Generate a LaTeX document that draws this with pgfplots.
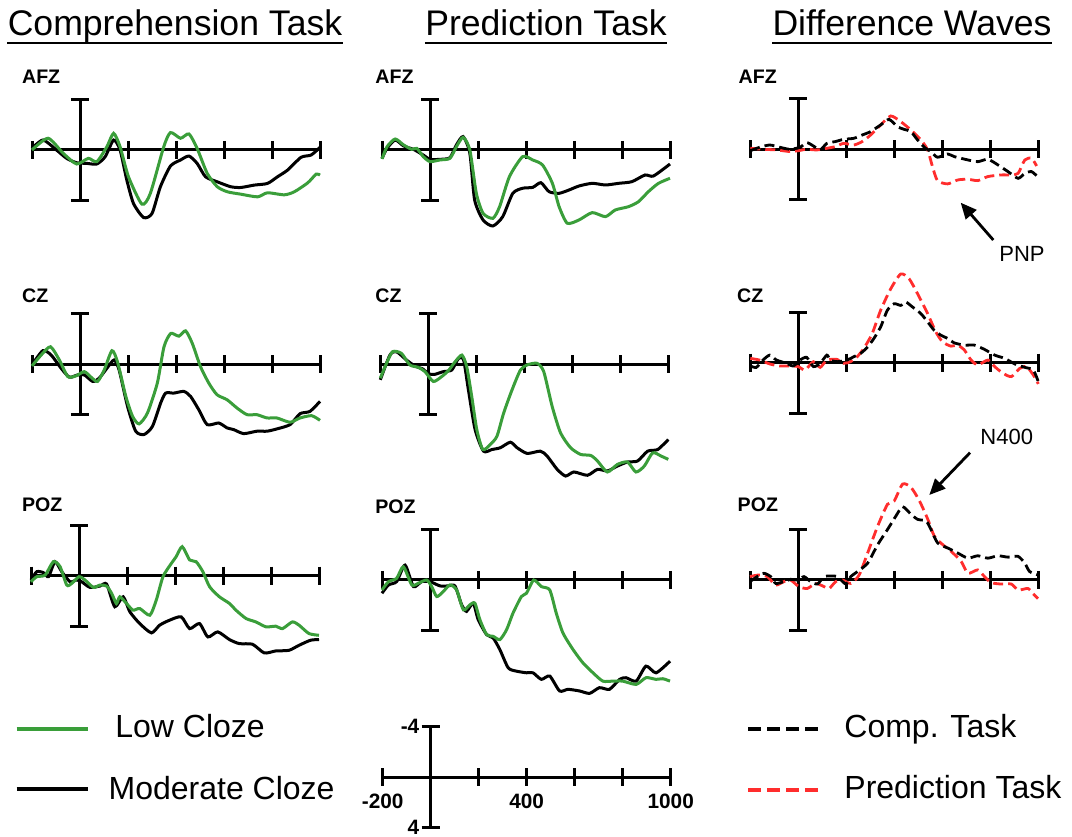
\documentclass[border=0pt]{standalone}
\usepackage{fontspec}
\setmainfont{Liberation Sans}
\usepackage{pgfplots}
\pgfplotsset{compat=1.18}
\usetikzlibrary{arrows.meta}
\definecolor{lowgreen}{RGB}{58,158,58}
\definecolor{predred}{RGB}{255,45,45}

\pgfplotsset{
  erp/.style={
    scale only axis, width=144pt, height=50.5pt,
    xmin=-200, xmax=1000, ymin=-4, ymax=4, y dir=reverse,
    axis lines=middle, inner axis line style={-},
    axis line style={line width=1.5pt, black},
    xtick={-200,0,200,400,600,800,1000}, ytick={-4,4},
    xticklabels={}, yticklabels={},
    tick align=center, major tick length=9pt,
    tick style={line width=1.5pt, black},
    clip=false, anchor=origin,
  },
  low/.style={lowgreen, line width=1.5pt, mark=none, smooth, tension=0.4},
  mod/.style={black, line width=1.5pt, mark=none, smooth, tension=0.4},
  dcomp/.style={black, line width=1.4pt, mark=none, dash pattern=on 5pt off 2.5pt, smooth, tension=0.4},
  dpred/.style={predred, line width=1.4pt, mark=none, dash pattern=on 5pt off 2.5pt, smooth, tension=0.4},
}

\begin{document}
\begin{tikzpicture}

% ---------- row 1: AFZ ----------
\begin{axis}[erp, at={(40pt,-75pt)}]
\addplot[mod] coordinates {(-200,-0.13) (-154,-0.79) (-98,0) (-56,0.66) (-14,1.01) (28,1.06) (70,1.11) (105,0.53) (140,-0.79) (167,0) (195,2.38) (223,4.24) (265,5.35) (300,5.03) (335,2.91) (377,1.27) (419,0.79) (454,0.48) (488,1.06) (523,2.12) (572,2.52) (628,2.91) (670,2.97) (726,2.78) (781,2.65) (823,2.12) (865,1.59) (921,0.58) (963,0.40) (1000,-0.21)};
\addplot[low] coordinates {(-200,0) (-133,-0.93) (-70,0.26) (-14,1.11) (35,0.66) (70,0.93) (112,-0.26) (140,-1.32) (167,-0.26) (202,2.12) (258,4.29) (293,3.44) (349,-0.26) (377,-1.38) (419,-0.93) (454,-1.27) (488,-0.13) (530,1.85) (572,2.91) (614,3.31) (670,3.50) (740,3.71) (781,3.39) (851,3.55) (893,3.31) (949,2.60) (984,1.91) (1000,1.99)};
\end{axis}

\begin{axis}[erp, at={(215pt,-75pt)}]
\addplot[mod] coordinates {(-200,0.66) (-179,-0.13) (-145,-0.79) (-110,-0.32) (-69,-0.05) (-28,0.40) (0,0.74) (41,0.74) (83,0.61) (110,-0.40) (138,-1.06) (166,0.26) (186,3.96) (221,5.54) (262,6.02) (303,5.28) (345,3.43) (386,3.03) (428,2.96) (462,2.59) (496,3.30) (538,3.43) (579,3.17) (621,2.85) (676,2.64) (731,2.77) (786,2.64) (841,2.51) (896,1.98) (931,2.06) (1000,1.11)};
\addplot[low] coordinates {(-200,0.71) (-179,-0.26) (-145,-0.87) (-110,-0.40) (-76,-0.05) (-55,-0.13) (-28,0.53) (0,0.92) (41,0.79) (83,0.66) (110,-0.26) (138,-1.0) (166,0) (193,3.43) (221,5.01) (262,5.41) (290,4.49) (331,2.11) (386,0.53) (428,0.79) (469,1.19) (510,2.64) (538,4.49) (572,5.80) (621,5.54) (676,4.96) (731,5.28) (772,4.75) (827,4.49) (869,4.09) (910,3.30) (952,2.64) (1000,2.24)};
\end{axis}

\begin{axis}[erp, at={(399.15pt,-74.65pt)}]
\addplot[dpred] coordinates {(-200,-0.08) (-147,0) (-91,0.05) (-35,0.18) (0,0.11) (35,0) (77,0.05) (119,-0.08) (154,-0.21) (189,-0.47) (231,-0.34) (266,-0.61) (301,-1.13) (343,-1.93) (385,-2.64) (427,-2.19) (469,-1.53) (511,-0.74) (539,0.05) (559,1.37) (580,2.48) (622,2.74) (664,2.43) (706,2.37) (748,2.48) (790,2.16) (846,2.03) (888,2.03) (916,1.90) (944,0.84) (972,0.71) (993,1.32)};
\addplot[dcomp] coordinates {(-200,0.11) (-161,-0.16) (-119,-0.34) (-77,-0.16) (-35,0) (7,-0.16) (35,-0.53) (63,-0.26) (91,0.05) (119,-0.47) (154,-0.61) (189,-0.79) (231,-0.87) (266,-1.13) (301,-1.40) (343,-1.93) (378,-2.37) (413,-1.79) (441,-1.58) (469,-1.40) (497,-0.74) (525,-0.16) (552,0.18) (580,0.63) (622,0.37) (650,0.58) (706,0.84) (748,0.98) (790,0.79) (832,1.24) (874,1.77) (916,2.30) (944,1.90) (972,1.77) (1000,2.22)};
\end{axis}

% ---------- row 2: CZ ----------
\begin{axis}[erp, at={(40pt,-182.15pt)}]
\addplot[mod] coordinates {(-200,0.05) (-155,-1.08) (-120,-0.73) (-79,0.31) (-44,1.02) (-10,0.84) (18,0.84) (53,1.36) (80,1.10) (115,0.24) (142,-0.34) (163,0.45) (198,3.33) (232,5.30) (267,5.56) (302,4.91) (336,3.07) (357,2.28) (391,2.28) (433,2.15) (461,2.55) (495,3.60) (530,4.78) (578,4.65) (613,5.04) (640,5.17) (682,5.49) (737,5.30) (779,5.30) (820,5.12) (875,4.78) (917,3.91) (958,3.73) (1000,2.94)};
\addplot[low] coordinates {(-200,0.13) (-162,-0.73) (-123,-1.39) (-86,-0.34) (-51,0.97) (-17,0.92) (18,0.58) (46,1.02) (73,1.36) (101,0.45) (133,-1.08) (156,-0.21) (191,2.55) (219,4.12) (246,4.72) (281,3.86) (322,1.50) (350,-1.39) (378,-2.44) (412,-2.23) (440,-2.65) (468,-1.65) (502,0.18) (537,1.50) (571,2.41) (613,2.81) (654,3.46) (696,3.99) (737,3.99) (779,4.25) (820,4.25) (875,4.59) (917,4.25) (965,4.07) (1000,4.44)};
\end{axis}

\begin{axis}[erp, at={(214.15pt,-182.15pt)}]
\addplot[mod] coordinates {(-200,1.23) (-160,-0.73) (-133,-1.00) (-91,-0.34) (-56,0.13) (-21,0.39) (0,0.76) (28,0.79) (63,0.58) (98,0.45) (126,-0.47) (147,-0.34) (167,2.02) (195,5.17) (230,6.88) (265,6.75) (300,6.61) (342,6.17) (370,6.61) (412,7.06) (467,6.88) (495,7.27) (537,8.32) (572,8.85) (607,8.53) (663,8.79) (705,8.32) (746,8.45) (788,8.06) (830,7.74) (872,7.66) (914,6.88) (956,6.75) (1000,5.96)};
\addplot[low] coordinates {(-200,1.10) (-174,-0.08) (-149,-1.00) (-112,-0.87) (-77,0.05) (-42,0.24) (-14,0.58) (21,1.36) (56,0.97) (84,0.50) (112,-0.21) (140,-0.73) (160,0.18) (181,2.55) (202,5.17) (227,6.75) (258,6.35) (286,5.70) (314,3.86) (349,2.02) (384,0.45) (412,0.05) (453,-0.08) (481,0.58) (516,3.33) (551,5.43) (593,6.61) (635,7.14) (677,7.22) (705,7.66) (746,8.53) (788,7.93) (830,7.74) (865,8.53) (900,8.06) (935,7.01) (970,7.27) (1000,7.53)};
\end{axis}

\begin{axis}[erp, at={(399.15pt,-181.35pt)}]
\addplot[dpred] coordinates {(-200,-0.34) (-161,-0.21) (-119,0.10) (-77,0.26) (-35,0.26) (0,0.31) (28,0.58) (63,-0.08) (91,0.37) (119,-0.21) (161,-0.26) (189,0.05) (217,-0.08) (245,-0.47) (273,-1.13) (308,-2.31) (343,-4.15) (385,-5.85) (427,-7.03) (462,-6.64) (497,-5.46) (539,-3.88) (573,-2.44) (601,-1.65) (636,-1.31) (664,-1.39) (692,-1.00) (720,-0.21) (748,0.18) (790,-0.21) (818,0.31) (853,0.84) (888,1.10) (923,0.45) (951,0.31) (979,0.97) (1000,1.68)};
\addplot[dcomp] coordinates {(-200,0.26) (-175,0.37) (-147,-0.21) (-119,-0.60) (-91,-0.21) (-49,0.05) (-21,0.26) (7,-0.21) (35,-0.42) (63,0.31) (91,0.05) (119,-0.60) (133,-0.21) (161,-0.08) (203,-0.21) (231,-0.47) (259,-0.73) (287,-1.21) (315,-1.92) (343,-2.83) (371,-4.15) (399,-4.67) (427,-4.54) (448,-4.80) (476,-4.41) (511,-3.88) (539,-3.23) (566,-2.57) (594,-2.18) (622,-1.92) (650,-1.57) (692,-1.39) (734,-1.39) (776,-1.05) (818,-0.60) (860,-0.34) (902,0.10) (944,0.37) (979,0.58) (1000,1.50)};
\end{axis}

% ---------- row 3: POZ ----------
\begin{axis}[erp, at={(39.5pt,-287.85pt)}]
\addplot[mod] coordinates {(-200,0.34) (-176,-0.32) (-148,-0.24) (-127,0.08) (-100,-1.11) (-72,-0.32) (-37,0.48) (-10,0.34) (11,0.48) (46,0.93) (87,0.82) (115,0.66) (149,2.46) (184,1.67) (212,2.86) (253,3.79) (302,4.53) (336,3.92) (378,3.52) (426,3.26) (461,4.19) (502,3.79) (537,4.85) (578,4.45) (627,5.06) (668,5.38) (723,5.43) (772,6.12) (820,5.96) (875,5.91) (917,5.51) (965,5.11) (1000,5.06)};
\addplot[low] coordinates {(-200,0.48) (-176,0.08) (-141,-0.05) (-107,-1.11) (-79,-0.72) (-51,0.74) (-30,0.61) (0,0.08) (25,0.34) (60,0.93) (87,0.74) (115,0.82) (136,1.40) (156,2.20) (170,1.67) (198,2.20) (225,2.73) (253,2.60) (295,3.13) (322,1.93) (350,0.08) (385,-0.98) (405,-1.51) (430,-2.30) (461,-1.25) (488,-1.11) (516,-0.32) (544,0.87) (585,1.67) (627,2.20) (654,2.73) (696,3.39) (737,3.66) (779,4.05) (820,4.00) (848,4.19) (889,3.66) (917,3.92) (958,4.58) (1000,4.72)};
\end{axis}

\begin{axis}[erp, at={(215pt,-290pt)}]
\addplot[mod] coordinates {(-200,1.05) (-173,0.39) (-139,0.13) (-104,-1.18) (-69,0.52) (-35,0.13) (0,0.13) (42,0.47) (76,0.47) (104,0.47) (132,1.97) (152,2.49) (180,1.84) (201,3.15) (236,4.33) (263,4.59) (291,5.51) (326,6.96) (360,7.22) (402,7.35) (429,7.35) (464,7.87) (499,7.61) (540,8.79) (575,8.66) (623,8.79) (665,8.98) (706,8.53) (748,8.66) (790,7.87) (817,7.74) (859,8.01) (900,6.82) (942,7.35) (1000,6.43)};
\addplot[low] coordinates {(-200,0.79) (-173,0.13) (-139,-0.13) (-111,-1.05) (-76,0.39) (-49,0.26) (-14,0) (7,0.52) (28,1.31) (55,0.92) (83,0.39) (111,0.79) (139,2.36) (166,1.97) (187,1.84) (208,3.15) (236,4.33) (263,4.46) (291,4.72) (319,3.94) (346,2.62) (381,1.31) (402,1.05) (432,0) (464,0.52) (499,0.79) (526,2.62) (554,4.20) (596,5.51) (637,6.56) (679,7.35) (720,8.01) (762,8.01) (803,8.01) (859,8.27) (900,7.74) (942,7.87) (970,7.82) (1000,8.01)};
\end{axis}

\begin{axis}[erp, at={(399pt,-290pt)}]
\addplot[dpred] coordinates {(-200,-0.27) (-163,-0.40) (-128,-0.27) (-93,0.40) (-59,0.13) (-31,0) (4,0.53) (39,0.67) (74,0.27) (109,0.53) (130,0.67) (157,0.13) (185,0) (220,0.27) (255,-0.40) (290,-2.13) (332,-4.27) (373,-6.00) (401,-6.27) (436,-7.60) (471,-7.33) (506,-6.27) (541,-4.80) (568,-3.47) (603,-2.80) (638,-2.27) (680,-1.47) (708,-0.53) (749,-0.80) (777,-0.27) (805,0.21) (847,0.32) (889,0.32) (917,0.80) (958,0.67) (979,1.07) (1000,1.47)};
\addplot[dcomp] coordinates {(-200,0.13) (-170,-0.27) (-142,-0.53) (-114,-0.27) (-93,0.27) (-59,0.13) (-31,-0.05) (0,0) (25,-0.27) (53,0.13) (81,0.32) (109,-0.27) (137,-0.32) (164,-0.27) (199,0.32) (220,-0.27) (248,-0.67) (290,-1.33) (332,-2.80) (373,-4.00) (408,-5.07) (436,-5.81) (471,-5.20) (499,-4.80) (534,-4.67) (554,-4.00) (582,-2.93) (624,-2.53) (666,-2.13) (708,-1.73) (749,-1.92) (791,-1.73) (833,-1.92) (875,-1.81) (917,-1.87) (945,-1.33) (965,-0.67) (1000,-0.40)};
\end{axis}

% ---------- scale axis ----------
\begin{axis}[erp, at={(215.35pt,-388.65pt)},
  xticklabels={-200,,,400,,,1000}, yticklabels={-4,4},
  ticklabel style={font=\bfseries\fontsize{10.4}{12}\selectfont, inner sep=1pt},
  xticklabel style={yshift=-2.5pt}]
\end{axis}

\begin{scope}[x=0.5pt, y=-0.5pt]
\path[use as bounding box] (0,0) rectangle (1072,833);
% titles
\foreach \cx/\t in {175/Comprehension Task, 546/Prediction Task, 912/Difference Waves}{
  \node[anchor=base, inner sep=0, font=\fontsize{17.8}{20}\selectfont] (t) at (\cx,36) {\t};
  \draw[line width=1.2pt] ([yshift=-3.6pt]t.base west) -- ([yshift=-3.6pt]t.base east);
}
% electrode labels
\foreach \lx/\ly/\t in {21.7/83.3/AFZ, 375/83.3/AFZ, 738.3/83.3/AFZ,
                        21.7/302.7/CZ, 375/303/CZ, 736.7/302.7/CZ,
                        21.7/511.7/POZ, 375/513.3/POZ, 737.3/511.7/POZ}{
  \node[anchor=base west, inner sep=0, font=\bfseries\fontsize{9.8}{12}\selectfont] at (\lx,\ly) {\t};
}
% annotations
\node[anchor=base west, inner sep=0, font=\fontsize{11}{13}\selectfont] at (999,262) {PNP};
\draw[line width=1.4pt, -{Triangle[length=8pt,width=7pt]}] (993.3,240) -- (960.7,202.7);
\node[anchor=base west, inner sep=0, font=\fontsize{11}{13}\selectfont] at (980,445) {N400};
\draw[line width=1.4pt, -{Triangle[length=8pt,width=7pt]}] (970,452.7) -- (929.3,495);
% legends
\draw[lowgreen, line width=2pt] (16.7,729) -- (88.3,729);
\draw[black, line width=2pt] (16.7,789.3) -- (88.3,789.3);
\node[anchor=base west, inner sep=0, font=\fontsize{16}{19}\selectfont] at (115,737.3) {Low Cloze};
\node[anchor=base west, inner sep=0, font=\fontsize{16}{19}\selectfont] at (108.3,799.3) {Moderate Cloze};
\draw[black, line width=2pt, dash pattern=on 6.5pt off 3pt] (748,729.3) -- (818.3,729.3);
\draw[predred, line width=2pt, dash pattern=on 6.5pt off 3pt] (748,790) -- (818.3,790);
\node[anchor=base west, inner sep=0, font=\fontsize{16}{19}\selectfont] at (844,737.3) {Comp. Task};
\node[anchor=base west, inner sep=0, font=\fontsize{16}{19}\selectfont] at (844,798.3) {Prediction Task};
\end{scope}
\end{tikzpicture}
\end{document}
